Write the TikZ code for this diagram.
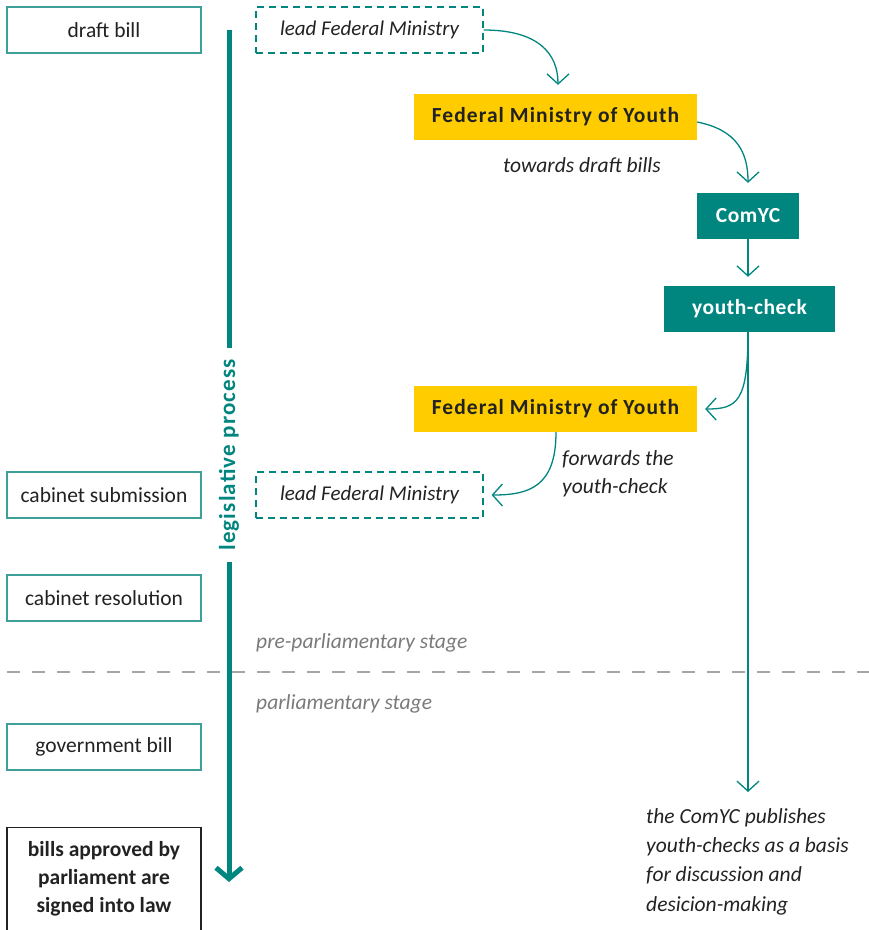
\documentclass[tikz,border=0pt]{standalone}
\usepackage{fontspec}
\setmainfont{Carlito}
\newfontfamily\spacedA[LetterSpace=5]{Carlito}
\newfontfamily\spacedB[LetterSpace=2.5]{Carlito}
\usetikzlibrary{arrows.meta,calc}
\definecolor{tealc}{HTML}{00857F}
\definecolor{tealline}{HTML}{3F9F9B}
\definecolor{yel}{HTML}{FFCC00}
\definecolor{txt}{HTML}{222222}
\definecolor{greytxt}{HTML}{7A7A7A}
\definecolor{greyline}{HTML}{A5A5A5}
\newcommand{\fs}{\fontsize{21.5}{28}\selectfont}
\begin{document}
\begin{tikzpicture}[x=1pt,y=-1pt,
  stagebox/.style={draw=tealline, line width=1.4pt, minimum width=194pt, minimum height=46pt, inner sep=0pt, font=\fs, text=txt},
  leadbox/.style={draw=tealc, line width=1.2pt, dash pattern=on 7pt off 5pt, minimum width=227pt, minimum height=46pt, inner sep=0pt, font=\fontsize{21}{28}\selectfont\itshape, text=txt},
  fmybox/.style={fill=yel, minimum width=283pt, minimum height=46pt, inner sep=0pt, font=\spacedA\fs\bfseries, text=txt},
  tealbox/.style={fill=tealc, minimum height=46pt, inner sep=0pt, font=\spacedB\fs\bfseries, text=white},
  note/.style={font=\fs\itshape, text=txt, align=left, inner sep=0pt},
  stage/.style={font=\fs\itshape, text=greytxt, inner sep=0pt, anchor=west},
  arr/.style={draw=tealc, line width=1.3pt, -{Straight Barb[length=10pt,width=22pt,line width=1.3pt]}},
]
\useasboundingbox (0,0) rectangle (869,930);
% left stage boxes
\node[stagebox] (draft) at (104,30) {draft bill};
\node[stagebox] (csub) at (104,495) {cabinet submission};
\node[stagebox] (cres) at (104,598) {cabinet resolution};
\node[stagebox] (gov) at (104,747) {government bill};
\node[draw=txt, line width=1.4pt, minimum width=194pt, minimum height=108pt, inner sep=0pt, anchor=north,
      font=\fs\bfseries, text=txt, align=center, text depth=10pt] (law) at (104,827)
  {bills approved by\\parliament are\\signed into law};
% legislative process axis
\coordinate (axtop) at (229,30);
\coordinate (axbot) at (229,882);
\node[rotate=90, font=\spacedA\fontsize{23}{24}\selectfont\bfseries, text=tealc, inner xsep=11pt, inner ysep=0pt] (lp) at (229,455) {legislative process};
\draw[tealc, line width=5pt] (axtop) -- (lp.east);
\draw[tealc, line width=5pt, -{Straight Barb[length=11pt,width=26pt,line width=5pt]}] (lp.west) -- (axbot);
% right flow
\node[leadbox] (lead1) at (369.5,30) {lead Federal Ministry};
\node[fmybox] (fmy1) at (555.5,117) {Federal Ministry of Youth};
\node[note, anchor=center] (towards) at (582,165) {towards draft bills};
\node[tealbox, minimum width=102pt] (comyc) at (748,216) {ComYC};
\node[tealbox, minimum width=171pt] (yc) at (749.5,309) {youth-check};
\node[fmybox] (fmy2) at (555.5,409) {Federal Ministry of Youth};
\node[note, anchor=north west] (fwd) at (562,450) {forwards the\\youth-check};
\node[leadbox] (lead2) at (369.5,495) {lead Federal Ministry};
\node[note, anchor=north west, text depth=0pt, font=\fontsize{21.5}{29.3}\selectfont\itshape] (pub) at (646,808) {the ComYC publishes\\youth-checks as a basis\\for discussion and\\desicion-making};
% stage separation
\node[stage] (pre) at (256,643) {pre-parliamentary stage};
\coordinate (sepl) at (7,672);
\coordinate (sepr) at (869,672);
\draw[greyline, line width=1.3pt, dash pattern=on 13pt off 12pt] (sepl) -- (sepr);
\node[stage] (parl) at (256,704) {parliamentary stage};
% connectors
\draw[arr, shorten >=9pt] (lead1.east) .. controls +(55,0) and +(0,-40) .. ([xshift=2.5pt]fmy1.north);
\draw[arr, shorten >=10pt] ([yshift=-5pt]fmy1.east) .. controls +(40,8) and +(0,-40) .. (comyc.north);
\draw[arr, shorten >=9pt] (comyc.south) -- (comyc.south |- yc.north);
\draw[arr, shorten >=8pt] (yc.south -| comyc.south) .. controls +(0,70) and +(40,0) .. (fmy2.east);
\draw[arr, shorten >=8pt] ([xshift=0.5pt]fmy2.south) .. controls +(0,55) and +(45,0) .. (lead2.east);
\draw[arr, shorten >=16pt] (yc.south -| comyc.south) -- (comyc.south |- pub.north);
\end{tikzpicture}
\end{document}
